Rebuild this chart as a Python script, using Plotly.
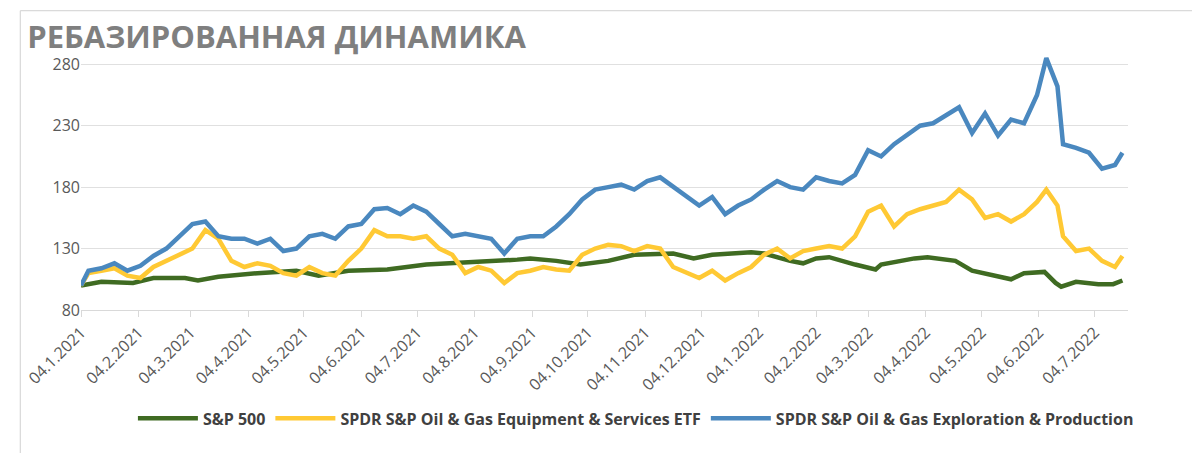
import plotly.graph_objects as go

# weekly readings, rebased to 100
ep_dates = ["2021-01-04","2021-01-08","2021-01-15","2021-01-22","2021-01-29","2021-02-05","2021-02-12","2021-02-19","2021-02-26",
            "2021-03-05","2021-03-12","2021-03-19","2021-03-26","2021-04-02","2021-04-09","2021-04-16","2021-04-23","2021-04-30",
            "2021-05-07","2021-05-14","2021-05-21","2021-05-28","2021-06-04","2021-06-11","2021-06-18","2021-06-25","2021-07-02",
            "2021-07-09","2021-07-16","2021-07-23","2021-07-30","2021-08-06","2021-08-13","2021-08-20","2021-08-27","2021-09-03",
            "2021-09-10","2021-09-17","2021-09-24","2021-10-01","2021-10-08","2021-10-15","2021-10-22","2021-10-29","2021-11-05",
            "2021-11-12","2021-11-19","2021-11-26","2021-12-03","2021-12-10","2021-12-17","2021-12-24","2021-12-31","2022-01-07",
            "2022-01-14","2022-01-21","2022-01-28","2022-02-04","2022-02-11","2022-02-18","2022-02-25","2022-03-04","2022-03-11",
            "2022-03-18","2022-03-25","2022-04-01","2022-04-08","2022-04-15","2022-04-22","2022-04-29","2022-05-06","2022-05-13",
            "2022-05-20","2022-05-27","2022-06-03","2022-06-08","2022-06-14","2022-06-17","2022-06-24","2022-07-01","2022-07-08",
            "2022-07-15","2022-07-19"]
ep_vals = [100,112,114,118,112,116,124,130,140,
           150,152,140,138,138,134,138,128,130,
           140,142,138,148,150,162,163,158,165,
           160,150,140,142,140,138,126,138,140,
           140,148,158,170,178,180,182,178,185,
           188,180,172,165,172,158,165,170,178,
           185,180,178,188,185,183,190,210,205,
           215,222,230,232,238,245,224,240,222,
           235,232,255,285,262,215,212,208,195,
           198,208]

eq_vals = [100,110,112,114,108,106,115,120,125,
           130,145,138,120,115,118,116,110,108,
           115,110,108,120,130,145,140,140,138,
           140,130,125,110,115,112,102,110,112,
           115,113,112,125,130,133,132,128,132,
           130,115,110,106,112,104,110,115,125,
           130,122,128,130,132,130,140,160,165,
           148,158,162,165,168,178,170,155,158,
           152,158,168,178,165,140,128,130,120,
           115,124]

spx_dates = ["2021-01-04","2021-01-15","2021-02-01","2021-02-12","2021-03-01","2021-03-08","2021-03-19","2021-04-09","2021-04-30",
             "2021-05-12","2021-05-28","2021-06-18","2021-07-09","2021-08-06","2021-08-27","2021-09-03","2021-09-17","2021-09-30",
             "2021-10-15","2021-10-29","2021-11-19","2021-11-30","2021-12-10","2021-12-31","2022-01-07","2022-01-21","2022-01-28",
             "2022-02-04","2022-02-11","2022-02-25","2022-03-08","2022-03-11","2022-03-29","2022-04-05","2022-04-20","2022-04-29",
             "2022-05-11","2022-05-20","2022-05-27","2022-06-07","2022-06-13","2022-06-16","2022-06-24","2022-07-06","2022-07-14",
             "2022-07-19"]
spx_vals = [100,103,102,106,106,104,107,110,112,
            108,112,113,117,119,121,122,120,117,
            120,125,126,122,125,127,126,120,118,
            122,123,117,113,117,122,123,120,112,
            108,105,110,111,102,99,103,101,101,
            104]

tick_dates = ["2021-%02d-04" % m for m in range(1, 13)] + ["2022-%02d-04" % m for m in range(1, 8)]
tick_text = ["04.%d.2021" % m for m in range(1, 13)] + ["04.%d.2022" % m for m in range(1, 8)]

fig = go.Figure()
fig.add_trace(go.Scatter(x=spx_dates, y=spx_vals, name="S&P 500", mode="lines",
                         line=dict(color="#3f6b22", width=4.5)))
fig.add_trace(go.Scatter(x=ep_dates, y=eq_vals, name="SPDR S&P Oil & Gas Equipment & Services ETF", mode="lines",
                         line=dict(color="#ffc934", width=4.5)))
fig.add_trace(go.Scatter(x=ep_dates, y=ep_vals, name="SPDR S&P Oil & Gas Exploration & Production", mode="lines",
                         line=dict(color="#4a88bf", width=4.5)))

fig.update_layout(
    width=1200, height=453,
    paper_bgcolor="white", plot_bgcolor="white",
    margin=dict(l=73, r=80, t=44, b=151),
    font=dict(family="Open Sans, Arial", color="#595959", size=16),
    title=dict(text="<b>РЕБАЗИРОВАННАЯ ДИНАМИКА</b>", x=0.016, xanchor="left", y=0.935, yanchor="middle",
               font=dict(size=31, color="#7f7f7f")),
    legend=dict(orientation="h", x=0.53, xanchor="center", y=-0.42, yanchor="middle",
                font=dict(size=16, color="#404040", family="Open Sans, Arial"), itemwidth=60),
    shapes=[dict(type="rect", xref="paper", yref="paper", x0=-0.058, x1=1.07, y0=-0.56, y1=1.16,
                 line=dict(color="#d0d0d0", width=1))],
)
for tr in fig.data:
    tr.name = "<b>" + tr.name + "</b>"
fig.update_xaxes(range=["2021-01-04", "2022-07-22"], tickvals=tick_dates, ticktext=tick_text, tickangle=-45,
                 showgrid=False, showline=True, linecolor="#d9d9d9", ticks="outside", tickcolor="#d9d9d9",
                 ticklen=6, tickfont=dict(size=16, color="#595959"))
fig.update_yaxes(range=[80, 290], tickvals=[80, 130, 180, 230, 280], showgrid=True, gridcolor="#e0e0e0",
                 zeroline=False, tickfont=dict(size=16, color="#595959"))

fig.write_html("out.html")
